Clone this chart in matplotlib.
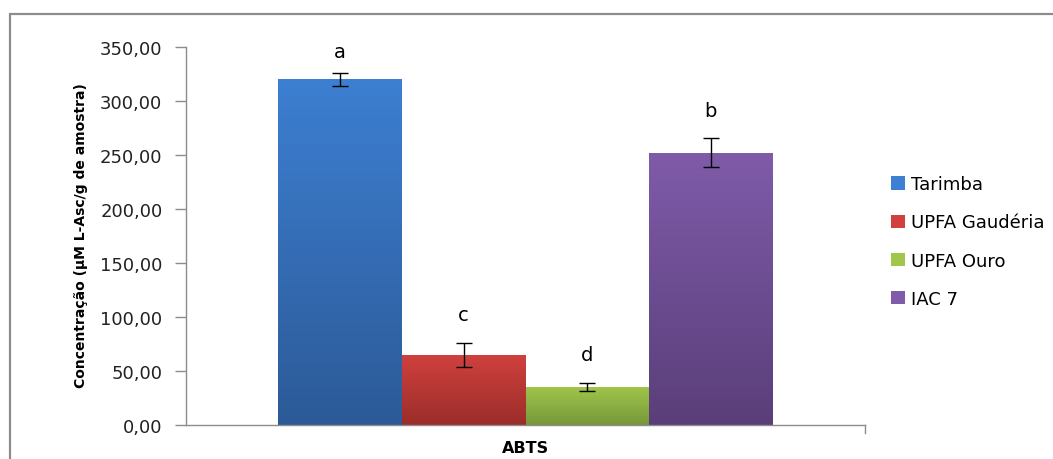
import numpy as np
import matplotlib
matplotlib.use("Agg")
import matplotlib.pyplot as plt
from matplotlib.colors import LinearSegmentedColormap
from matplotlib.patches import Rectangle

# ---- data ----
category = "ABTS"
series = ["Tarimba", "UPFA Gaudéria", "UPFA Ouro", "IAC 7"]
values = [320.4, 65.2, 35.5, 252.5]
errors = [6.0, 11.0, 3.7, 13.4]
letters = ["a", "c", "d", "b"]
yticks = [0, 50, 100, 150, 200, 250, 300, 350]
ytick_labels = ["0,00", "50,00", "100,00", "150,00", "200,00", "250,00", "300,00", "350,00"]
top_colors = ["#3d7fd2", "#d0413e", "#a0c64b", "#7f5ba9"]
bottom_colors = ["#2c5a97", "#9b2d2a", "#77983a", "#5a3e79"]

plt.rcParams['font.family'] = ['DejaVu Sans']

fig = plt.figure(figsize=(10.53, 4.60), dpi=100)
# outer chart border
fig.patches.append(Rectangle((10/1053, -0.1), 1.2, (460-15)/460 + 0.1, transform=fig.transFigure,
                             fill=False, edgecolor="#8c8c8c", linewidth=1.6, zorder=0))

ax = fig.add_axes([186/1053, 34/460, 679/1053, 377.7/460])
ax.set_xlim(-0.5, 0.5)
ax.set_ylim(0, 350)

w = 0.182
n = len(series)
xs = [(i - (n - 1) / 2) * w for i in range(n)]
bars = ax.bar(xs, values, width=w, color=top_colors, edgecolor="none", zorder=2)

for b, tc, bc in zip(bars, top_colors, bottom_colors):
    x0, y0 = b.get_x(), b.get_y()
    bw, bh = b.get_width(), b.get_height()
    cmap = LinearSegmentedColormap.from_list("g", [bc, tc])
    grad = np.linspace(0, 1, 256).reshape(-1, 1)
    im = ax.imshow(grad, cmap=cmap, origin="lower", aspect="auto",
                   extent=[x0, x0 + bw, y0, y0 + bh], zorder=2.1)
    im.set_clip_path(b)

ax.set_xlim(-0.5, 0.5)
ax.set_ylim(0, 350)

ax.errorbar(xs, values, yerr=errors, fmt="none", ecolor="black", elinewidth=1.0,
            capsize=6, capthick=1.0, zorder=3)

# significance letters; the tallest one sits just under the top of the plot area
for x, v, e, l in zip(xs, values, errors, letters):
    off = 15 if v + e > 320 else 20
    ax.annotate(l, (x, v + e), xytext=(0, off), textcoords="offset points",
                ha="center", va="center", fontsize=14, color="black")

ax.set_yticks(yticks)
ax.set_yticklabels(ytick_labels, fontsize=13, color="#222222")
ax.set_xticks([0])
ax.set_xticklabels([category], fontsize=11.5, fontweight="bold")
ax.tick_params(axis="x", length=0, pad=11)
ax.tick_params(axis="y", length=8, width=1, color="#8c8c8c", pad=9)

for s in ["top", "right"]:
    ax.spines[s].set_visible(False)
for s in ["left", "bottom"]:
    ax.spines[s].set_color("#8c8c8c")
    ax.spines[s].set_linewidth(1.0)
ax.plot([1, 1], [0, -0.02], transform=ax.transAxes, color="#8c8c8c", lw=1, clip_on=False)

ax.set_ylabel("Concentração (µM L-Asc/g de amostra)", fontsize=10, fontweight="bold")
ax.yaxis.set_label_coords(-(186 - 88) / 679, (426 - 236) / 377.7)

# legend
handles = [Rectangle((0, 0), 1, 1, facecolor=tc, edgecolor="none") for tc in top_colors]
leg = fig.legend(handles, series, loc="upper left", bbox_to_anchor=(884/1053, 1 - 169/460),
                 frameon=False, fontsize=13, handlelength=0.75, handleheight=0.75,
                 handletextpad=0.35, labelspacing=1.12, borderaxespad=0)

fig.savefig("out.png", dpi=100)
